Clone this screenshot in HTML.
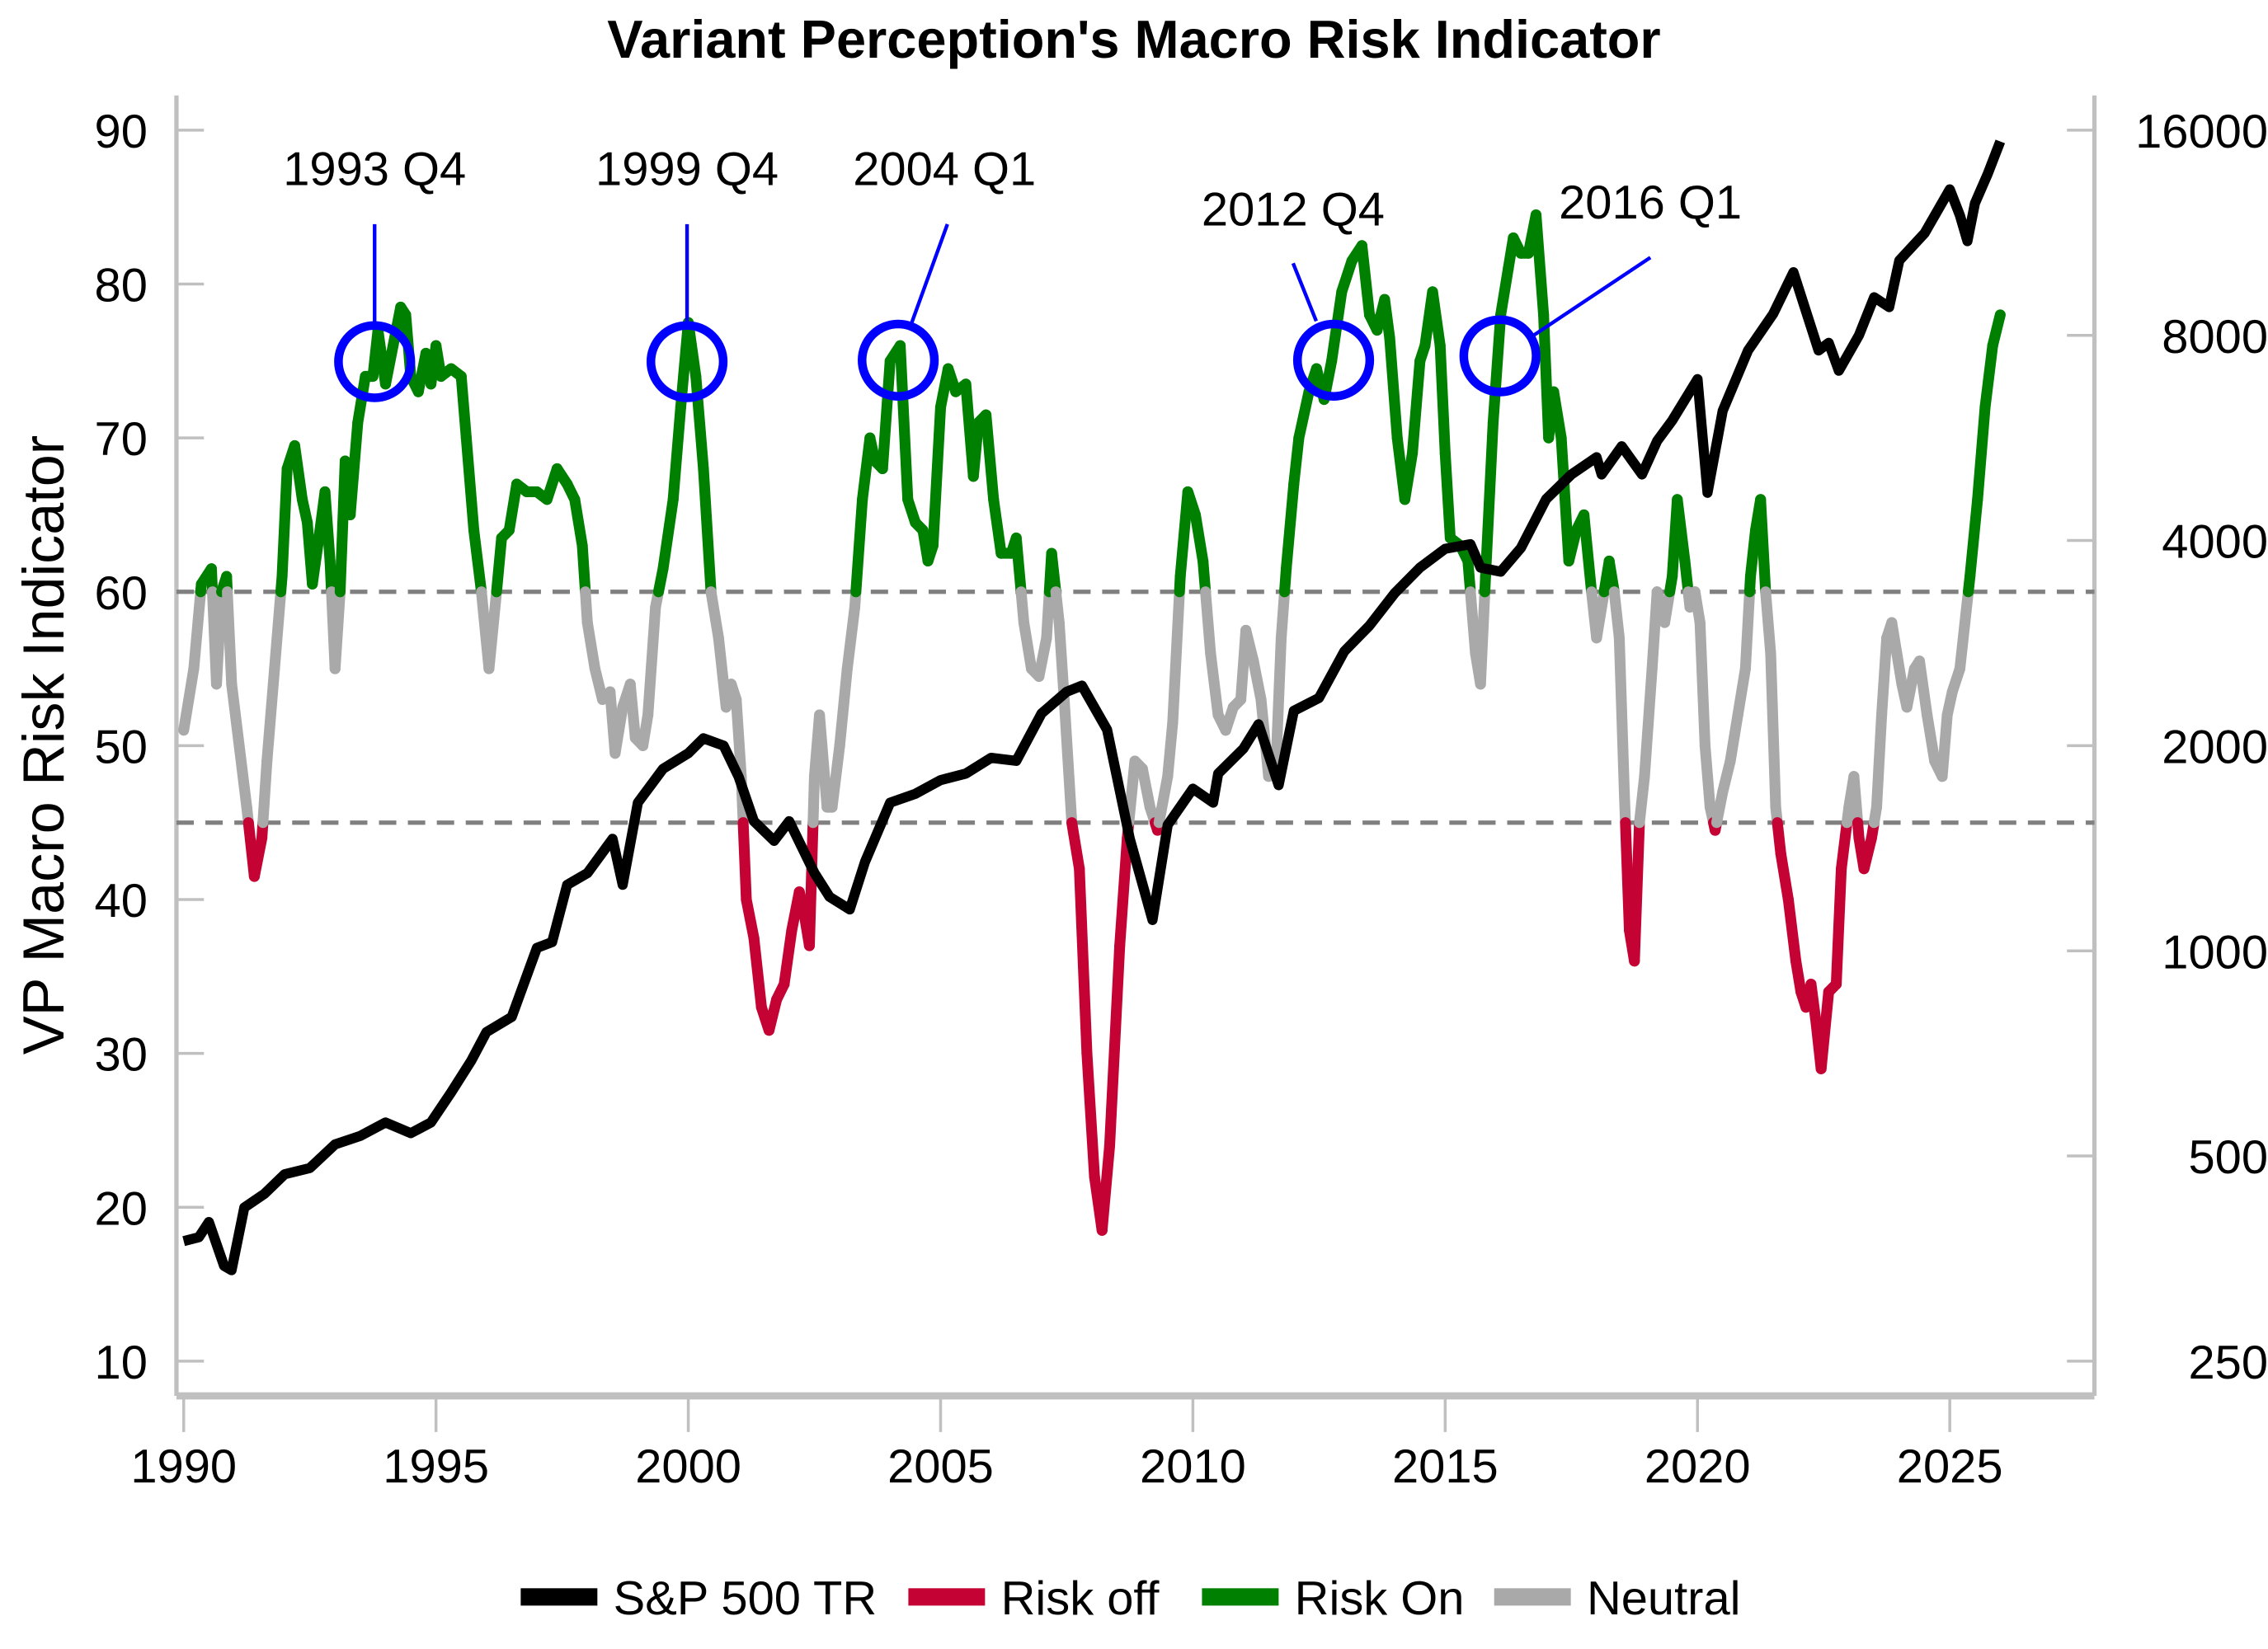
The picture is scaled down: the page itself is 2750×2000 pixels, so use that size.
<!DOCTYPE html>
<html><head><meta charset="utf-8"><style>
html,body{margin:0;padding:0;background:#fff;}
svg{display:block;font-family:"Liberation Sans",sans-serif;}
</style></head><body>
<svg id="chart" width="2750" height="2000" viewBox="0 0 1568 1140" preserveAspectRatio="none" xmlns="http://www.w3.org/2000/svg">
<rect width="1568" height="1140" fill="#fff"/>
<text x="784" y="40" text-anchor="middle" font-size="37" font-weight="bold">Variant Perception's Macro Risk Indicator</text>
<text transform="translate(44,515) rotate(-90)" text-anchor="middle" font-size="40">VP Macro Risk Indicator</text>
<g id="axes"></g>
<g id="series"></g>
<g id="annot"></g>
<g font-size="33">
 <rect x="360" y="1098" width="53" height="12" fill="#000"/>
 <text x="424" y="1116">S&amp;P 500 TR</text>
 <rect x="628" y="1098" width="53" height="12" fill="#C40233"/>
 <text x="692" y="1116">Risk off</text>
 <rect x="831" y="1098" width="53" height="12" fill="#008000"/>
 <text x="895" y="1116">Risk On</text>
 <rect x="1033" y="1098" width="53" height="12" fill="#A9A9A9"/>
 <text x="1097" y="1116">Neutral</text>
</g>
</svg>
<script>
const miYears=[1990.0,1990.2,1990.35,1990.55,1990.65,1990.75,1990.85,1990.95,1991.1,1991.25,1991.4,1991.55,1991.65,1991.8,1991.95,1992.05,1992.2,1992.35,1992.45,1992.55,1992.7,1992.8,1992.9,1993.0,1993.1,1993.2,1993.3,1993.45,1993.6,1993.75,1993.85,1994.0,1994.15,1994.3,1994.4,1994.5,1994.65,1994.8,1994.9,1995.0,1995.1,1995.3,1995.5,1995.6,1995.75,1995.9,1996.05,1996.2,1996.3,1996.45,1996.6,1996.8,1997.0,1997.2,1997.4,1997.6,1997.75,1997.9,1998.0,1998.15,1998.3,1998.45,1998.55,1998.7,1998.85,1998.95,1999.1,1999.2,1999.35,1999.5,1999.7,1999.85,2000.0,2000.15,2000.3,2000.45,2000.6,2000.75,2000.85,2000.95,2001.05,2001.15,2001.3,2001.45,2001.6,2001.75,2001.9,2002.05,2002.2,2002.3,2002.4,2002.5,2002.6,2002.75,2002.85,2003.0,2003.15,2003.3,2003.45,2003.6,2003.7,2003.85,2004.0,2004.2,2004.35,2004.5,2004.65,2004.75,2004.85,2005.0,2005.15,2005.3,2005.5,2005.65,2005.75,2005.9,2006.05,2006.2,2006.4,2006.5,2006.65,2006.8,2006.95,2007.1,2007.2,2007.35,2007.45,2007.6,2007.75,2007.9,2008.05,2008.2,2008.35,2008.55,2008.7,2008.85,2009.0,2009.15,2009.3,2009.5,2009.6,2009.75,2009.9,2010.05,2010.2,2010.35,2010.5,2010.65,2010.8,2010.95,2011.05,2011.2,2011.35,2011.5,2011.65,2011.75,2011.85,2012.0,2012.1,2012.3,2012.45,2012.6,2012.75,2012.95,2013.15,2013.35,2013.5,2013.65,2013.8,2013.9,2014.05,2014.2,2014.35,2014.5,2014.6,2014.75,2014.9,2015.0,2015.1,2015.3,2015.45,2015.6,2015.7,2015.8,2015.95,2016.1,2016.25,2016.35,2016.5,2016.65,2016.8,2016.95,2017.05,2017.15,2017.3,2017.45,2017.6,2017.75,2017.9,2018.0,2018.15,2018.25,2018.35,2018.45,2018.55,2018.65,2018.75,2018.85,2018.95,2019.1,2019.2,2019.35,2019.5,2019.6,2019.75,2019.85,2019.95,2020.05,2020.15,2020.25,2020.35,2020.5,2020.65,2020.8,2020.95,2021.05,2021.15,2021.25,2021.35,2021.45,2021.55,2021.65,2021.8,2021.95,2022.05,2022.15,2022.25,2022.35,2022.45,2022.6,2022.75,2022.85,2023.0,2023.1,2023.2,2023.3,2023.45,2023.55,2023.65,2023.75,2023.85,2023.95,2024.05,2024.15,2024.3,2024.4,2024.55,2024.7,2024.85,2024.95,2025.05,2025.2,2025.3,2025.4,2025.55,2025.7,2025.85,2026.0];
const miValues=[51,55,60.5,61.5,54,60,61,54,50,46,41.5,44,49,55,61,68,69.5,66,64.5,60.5,64,66.5,62,55,60,68.5,65,71,74,74,77,73.5,76,78.5,78,74,73,75.5,73.5,76,74,74.5,74,70,64,60,55,60,63.5,64,67,66.5,66.5,66,68,67,66,63,58,55,53,53.5,49.5,52.5,54,50.5,50,52,59,61.5,66,72,77.5,74,68,60,57,52.5,54,53,48,40,37.5,33,31.5,33.5,34.5,38,40.5,39,37,48,52,46,46,50,55,59,66,70,68.5,68,75,76,66,64.5,64,62,63,72,74.5,73,73.5,67.5,71,71.5,66,62.5,62.5,63.5,58,55,54.5,57,62.5,58,53,45,42,30,22,18.5,24,37,44,49,48.5,46,44.5,48,51.5,61,66.5,65,62,56,52,51,52.5,53,57.5,55.5,53,48,49,57,61.5,67,70,73,74.5,72.5,75,79.5,81.5,82.5,78,77,79,76.5,70,66,69,75,76,79.5,76,69,63.5,63,62,56,54,61,71,78,81,83,82,82,84.5,78,70,73,70,62,64,65,60,57,60,62,60,57,47,38,36,45,48,55,60,58,61,66,62,59,60,58,50,46,44.5,47,49,52,55,61,64,66,60,56,46,43,40,36,34,33,34.5,32,29,34,34.5,42,46,48,44,42,44,46,52,57,58,56,54,52.5,55,55.5,52,49,48,52,53.5,55,58,61,66,72,76,78];
const spYears=[1990.0,1990.3,1990.5,1990.8,1990.95,1991.2,1991.6,1992.0,1992.5,1993.0,1993.5,1994.0,1994.5,1994.9,1995.3,1995.7,1996.0,1996.5,1997.0,1997.3,1997.6,1998.0,1998.5,1998.7,1999.0,1999.5,2000.0,2000.3,2000.7,2001.0,2001.3,2001.7,2002.0,2002.5,2002.8,2003.2,2003.5,2004.0,2004.5,2005.0,2005.5,2006.0,2006.5,2007.0,2007.5,2007.8,2008.3,2008.75,2009.2,2009.5,2010.0,2010.4,2010.5,2011.0,2011.3,2011.7,2012.0,2012.5,2013.0,2013.5,2014.0,2014.5,2015.0,2015.5,2015.7,2016.1,2016.5,2017.0,2017.5,2018.0,2018.1,2018.5,2018.9,2019.2,2019.5,2020.0,2020.2,2020.5,2021.0,2021.5,2021.9,2022.4,2022.6,2022.8,2023.2,2023.5,2023.8,2024.0,2024.5,2025.0,2025.2,2025.35,2025.5,2025.75,2026.0];
const spValues=[375,380,400,345,340,420,440,470,480,520,535,560,540,560,620,690,760,800,1010,1030,1250,1300,1460,1250,1650,1850,1950,2050,2000,1800,1550,1450,1550,1300,1200,1150,1350,1650,1700,1780,1820,1920,1900,2230,2400,2450,2110,1460,1110,1530,1730,1650,1820,1980,2150,1750,2250,2350,2750,3000,3350,3650,3890,3950,3650,3600,3900,4600,5000,5300,5000,5500,5000,5600,6000,6900,4700,6200,7600,8600,9900,7600,7800,7100,8000,9100,8800,10300,11300,13100,12000,11000,12500,13800,15400];
const yTicks=[10,20,30,40,50,60,70,80,90];
const rTicks=[250,500,1000,2000,4000,8000,16000];
const xTicks=[1990,1995,2000,2005,2010,2015,2020,2025];
const thresholds=[45,60];

const NS='http://www.w3.org/2000/svg';
const L=122,R=1448,T=66,B=965;
const xS=y=>127+(y-1990)*(1348-127)/35;
const yL=v=>941-(v-10)*(941-90)/80;
const yR=v=>941-Math.log2(v/250)*(941-90)/6;
function mk(tag,attrs,parent){const e=document.createElementNS(NS,tag);for(const k in attrs)e.setAttribute(k,attrs[k]);parent.appendChild(e);return e;}
const axes=document.getElementById('axes');
let e;
e=mk('line',{x1:L,y1:T,x2:L,y2:B,stroke:'#c0c0c0','stroke-width':3},axes);


e=mk('line',{x1:R,y1:T,x2:R,y2:B,stroke:'#c0c0c0','stroke-width':3},axes);


e=mk('line',{x1:L,y1:B,x2:R,y2:B,stroke:'#c0c0c0','stroke-width':5},axes);


yTicks.forEach(v=>{const y=yL(v);
 e=mk('line',{x1:L,y1:y,x2:L+19,y2:y,stroke:'#c0c0c0','stroke-width':2},axes);
 
 
 e=mk('text',{x:102,y:y+12,'text-anchor':'end','font-size':33},axes);e.textContent=v;
 
 
});
rTicks.forEach(v=>{const y=yR(v);
 e=mk('line',{x1:R-19,y1:y,x2:R,y2:y,stroke:'#c0c0c0','stroke-width':2},axes);
 
 
 e=mk('text',{x:1568,y:y+12,'text-anchor':'end','font-size':33},axes);e.textContent=v;
 
 
});
xTicks.forEach(v=>{const x=xS(v);
 e=mk('line',{x1:x,y1:B,x2:x,y2:990,stroke:'#c0c0c0','stroke-width':2},axes);
 
 
 e=mk('text',{x:x,y:1025,'text-anchor':'middle','font-size':33},axes);e.textContent=v;
 
 
});
thresholds.forEach(v=>{
 e=mk('line',{x1:L,y1:yL(v),x2:R,y2:yL(v),stroke:'#808080','stroke-width':3,'stroke-dasharray':'12,8'},axes);
 
 
});
const ser=document.getElementById('series');
function col(v){return v>60?'#008000':(v<45?'#C40233':'#A9A9A9');}
for(let i=0;i<miYears.length-1;i++){
 let pts=[[miYears[i],miValues[i]]];
 const a=miValues[i],b=miValues[i+1];
 const cr=thresholds.filter(t=>(a-t)*(b-t)<0).map(t=>(t-a)/(b-a)).sort((p,q)=>p-q);
 cr.forEach(f=>pts.push([miYears[i]+f*(miYears[i+1]-miYears[i]),a+f*(b-a)]));
 pts.push([miYears[i+1],b]);
 for(let j=0;j<pts.length-1;j++){
  const m=(pts[j][1]+pts[j+1][1])/2;
  e=mk('line',{x1:xS(pts[j][0]),y1:yL(pts[j][1]),x2:xS(pts[j+1][0]),y2:yL(pts[j+1][1]),stroke:col(m),'stroke-width':7.5,'stroke-linecap':'round'},ser);
  
  
 }
}
let d=spYears.map((y,i)=>(i?'L':'M')+xS(y).toFixed(1)+','+yR(spValues[i]).toFixed(1)).join(' ');
e=mk('path',{d:d,fill:'none',stroke:'#000','stroke-width':7,'stroke-linejoin':'round'},ser);


const an=document.getElementById('annot');
const labels=[['1993 Q4',259,250,259,224,259,155,259,128],['1999 Q4',475,250,475,224,475,155,475,128],['2004 Q1',621,249,630,224,655,155,653,128],['2012 Q4',922,249,910,222,894,182,894,156],['2016 Q1',1037,246,1060,232,1141,178,1141,151]];
labels.forEach(l=>{
 e=mk('circle',{cx:l[1],cy:l[2],r:25,fill:'none',stroke:'#0000ff','stroke-width':6},an);
 
 
 e=mk('line',{x1:l[3],y1:l[4],x2:l[5],y2:l[6],stroke:'#0000ff','stroke-width':2.5},an);
 
 
 e=mk('text',{x:l[7],y:l[8],'text-anchor':'middle','font-size':33},an);e.textContent=l[0];
 
 
});
</script>
</body></html>
